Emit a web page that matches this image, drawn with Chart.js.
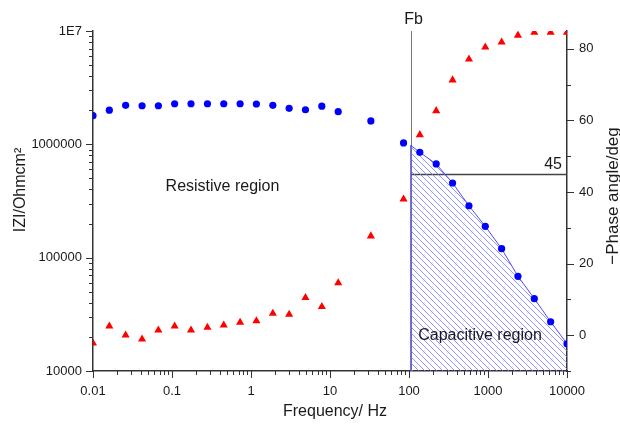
<!DOCTYPE html>
<html><head><meta charset="utf-8">
<script src="https://cdn.jsdelivr.net/npm/chart.js@4/dist/chart.umd.min.js"></script>
<style>html,body{margin:0;padding:0;background:#fff;}#wrap{width:620px;height:425px;}</style>
</head><body><div id="wrap"><canvas id="c" width="620" height="425"></canvas></div>
<script>
// ---- data ----
const frequencies = [0.01, 0.0161, 0.0259, 0.0418, 0.0672, 0.108, 0.174, 0.281, 0.452, 0.728, 1.17, 1.89, 3.04, 4.89, 7.88, 12.7, 32.9, 85.3, 137, 221, 356, 574, 924, 1487, 2395, 3856, 6209, 10000];
const impedance = [1.79e6, 2.0e6, 2.21e6, 2.19e6, 2.19e6, 2.28e6, 2.28e6, 2.28e6, 2.28e6, 2.28e6, 2.27e6, 2.21e6, 2.08e6, 2.02e6, 2.17e6, 1.94e6, 1.61e6, 1.03e6, 8.5e5, 6.71e5, 4.56e5, 2.87e5, 1.89e5, 1.20e5, 6.85e4, 4.35e4, 2.72e4, 1.74e4];
const phaseAngle = [-2.2, 2.5, 0, -1.1, 1.4, 2.5, 1.4, 2.2, 2.8, 3.6, 4.0, 6.1, 5.8, 10.5, 8.0, 14.6, 27.7, 38.0, 56.0, 62.7, 71.3, 77.1, 80.5, 81.9, 83.8, 84.6, 84.6, 84.6];
const xTickValues = [0.01, 0.1, 1, 10, 100, 1000, 10000];
const xTickLabels = ['0.01', '0.1', '1', '10', '100', '1000', '10000'];
const yTickValues = [10000, 100000, 1000000, 10000000];
const yTickLabels = ['10000', '100000', '1000000', '1E7'];
const y2TickValues = [0, 20, 40, 60, 80];
const y2TickLabels = ['0', '20', '40', '60', '80'];
const y2MinorValues = [-10, 10, 30, 50, 70];
const fbFrequency = 105;
const fbImpedance = 980000;
const phase45 = 45;
const texts = {fb: 'Fb', p45: '45', resistive: 'Resistive region', capacitive: 'Capacitive region',
  xTitle: 'Frequency/ Hz', yTitle: 'IZI/Ohmcm\u00B2', y2Title: '\u2212Phase angle/deg'};

// ---- derived tables ----
const impPoints = frequencies.map((f, i) => ({x: f, y: impedance[i]}));
const phasePoints = frequencies.map((f, i) => ({x: f, y: phaseAngle[i]}));
const capRegion = [{x: fbFrequency, y: yTickValues[0]}, {x: fbFrequency, y: fbImpedance}]
  .concat(frequencies.map((f, i) => ({x: f, y: impedance[i]})).filter(p => p.x > fbFrequency));

function minorLog(lo, hi) {
  const out = [];
  for (let d = lo; d < hi; d++) for (let m = 2; m <= 9; m++) out.push(m * Math.pow(10, d));
  return out;
}
const xMinor = minorLog(-2, 4);
const yMinor = minorLog(4, 7);

// hatch pattern
function makeHatch() {
  const s = 6;
  const c = document.createElement('canvas');
  c.width = s; c.height = s;
  const g = c.getContext('2d');
  g.strokeStyle = 'rgba(120,120,255,0.8)';
  g.lineWidth = 1;
  g.beginPath();
  for (let k = -1; k <= 1; k++) {
    g.moveTo(-1, -1 + k * s);
    g.lineTo(s + 1, s + 1 + k * s);
  }
  g.stroke();
  const ctx = document.getElementById('c').getContext('2d');
  return ctx.createPattern(c, 'repeat');
}

const FONT = '"Liberation Sans", Arial, sans-serif';
const txtColor = '#1a1a1a';

const decor = {
  id: 'decor',
  beforeDatasetsDraw(chart) {
    const ctx = chart.ctx, ca = chart.chartArea;
    const xs = chart.scales.x, y2 = chart.scales.y2;
    const fx = Math.round(xs.getPixelForValue(fbFrequency)) + 0.5;
    const p45 = Math.round(y2.getPixelForValue(phase45)) + 0.5;
    ctx.save();
    ctx.strokeStyle = '#777'; ctx.lineWidth = 1;
    ctx.beginPath(); ctx.moveTo(fx, ca.top); ctx.lineTo(fx, ca.bottom); ctx.stroke();
    ctx.strokeStyle = '#444'; ctx.lineWidth = 1.3;
    ctx.beginPath(); ctx.moveTo(fx, p45); ctx.lineTo(ca.right, p45); ctx.stroke();
    ctx.restore();
  },
  afterDraw(chart) {
    const ctx = chart.ctx, ca = chart.chartArea;
    const xs = chart.scales.x, ys = chart.scales.y, y2 = chart.scales.y2;
    ctx.save();
    // tick marks
    ctx.strokeStyle = '#333'; ctx.lineWidth = 1;
    ctx.beginPath();
    const vx = (v, len) => { const p = Math.round(xs.getPixelForValue(v)) + 0.5; ctx.moveTo(p, ca.bottom); ctx.lineTo(p, ca.bottom + len); };
    const vy = (v, len) => { const p = Math.round(ys.getPixelForValue(v)) + 0.5; ctx.moveTo(ca.left, p); ctx.lineTo(ca.left - len, p); };
    const vy2 = (v, len) => { const p = Math.round(y2.getPixelForValue(v)) + 0.5; ctx.moveTo(ca.right, p); ctx.lineTo(ca.right + len, p); };
    xTickValues.forEach(v => vx(v, 7)); xMinor.forEach(v => vx(v, 4));
    yTickValues.forEach(v => vy(v, 7)); yMinor.forEach(v => vy(v, 4));
    y2TickValues.forEach(v => vy2(v, 7)); y2MinorValues.forEach(v => vy2(v, 4));
    ctx.stroke();
    // texts
    ctx.fillStyle = txtColor;
    ctx.font = '16px ' + FONT;
    ctx.textBaseline = 'alphabetic';
    ctx.textAlign = 'center';
    const fx = xs.getPixelForValue(fbFrequency);
    ctx.fillText(texts.fb, fx + 3, 24);
    ctx.fillText(texts.resistive, 222.5, 191);
    ctx.fillText(texts.capacitive, 480, 340);
    ctx.textAlign = 'right';
    ctx.fillText(texts.p45, ca.right - 5, y2.getPixelForValue(phase45) - 5);
    ctx.textAlign = 'center';
    ctx.textBaseline = 'middle';
    ctx.fillText(texts.xTitle, 335, 412);
    ctx.save(); ctx.translate(21, 190); ctx.rotate(-Math.PI / 2); ctx.fillText(texts.yTitle, 0, 0); ctx.restore();
    ctx.font = '17px ' + FONT;
    ctx.save(); ctx.translate(613, 196); ctx.rotate(-Math.PI / 2); ctx.fillText(texts.y2Title, 0, 0); ctx.restore();
    ctx.restore();
  }
};

const tickFont = {family: FONT, size: 13};
new Chart(document.getElementById('c'), {
  type: 'scatter',
  data: {
    datasets: [
      {label: 'IZI', data: impPoints, yAxisID: 'y', pointStyle: 'circle', pointRadius: 3.6,
       backgroundColor: '#0000ff', borderWidth: 0, order: 1, clip: 0},
      {label: 'phase', data: phasePoints, yAxisID: 'y2', pointStyle: 'triangle', pointRadius: 4.7,
       backgroundColor: '#ff0000', borderWidth: 0, order: 2, clip: 0},
      {type: 'line', label: 'capacitive', data: capRegion, yAxisID: 'y', fill: 'start',
       backgroundColor: makeHatch(), borderColor: 'rgba(60,60,255,0.9)', borderWidth: 1,
       pointRadius: 0, tension: 0, order: 3, clip: 0}
    ]
  },
  options: {
    responsive: false, devicePixelRatio: 1, animation: false, events: [],
    layout: {padding: {top: 31, left: 0, right: 0, bottom: 0}},
    plugins: {legend: {display: false}, tooltip: {enabled: false}},
    scales: {
      x: {type: 'logarithmic', min: 0.01, max: 10000, position: 'bottom',
        afterBuildTicks: s => { s.ticks = xTickValues.map(v => ({value: v})); },
        afterFit: s => { s.height = 54; },
        grid: {display: false, drawTicks: true, tickLength: 7},
        border: {display: true, color: '#333', width: 1.5},
        ticks: {autoSkip: false, maxRotation: 0, padding: 6, color: txtColor, font: tickFont,
          callback: (v, i) => xTickLabels[i]}},
      y: {type: 'logarithmic', min: 10000, max: 10000000, position: 'left',
        afterBuildTicks: s => { s.ticks = yTickValues.map(v => ({value: v})); },
        afterFit: s => { s.width = 93; },
        grid: {display: false, drawTicks: true, tickLength: 7},
        border: {display: true, color: '#333', width: 1.5},
        ticks: {autoSkip: false, padding: 4, color: txtColor, font: tickFont,
          callback: (v, i) => yTickLabels[i]}},
      y2: {type: 'linear', min: -10, max: 85, position: 'right',
        afterBuildTicks: s => { s.ticks = y2TickValues.map(v => ({value: v})); },
        afterFit: s => { s.width = 53; },
        grid: {display: false, drawTicks: true, tickLength: 7},
        border: {display: true, color: '#333', width: 1.5},
        ticks: {autoSkip: false, padding: 5, color: txtColor, font: tickFont,
          callback: (v, i) => y2TickLabels[i]}}
    }
  },
  plugins: [decor]
});
</script></body></html>
